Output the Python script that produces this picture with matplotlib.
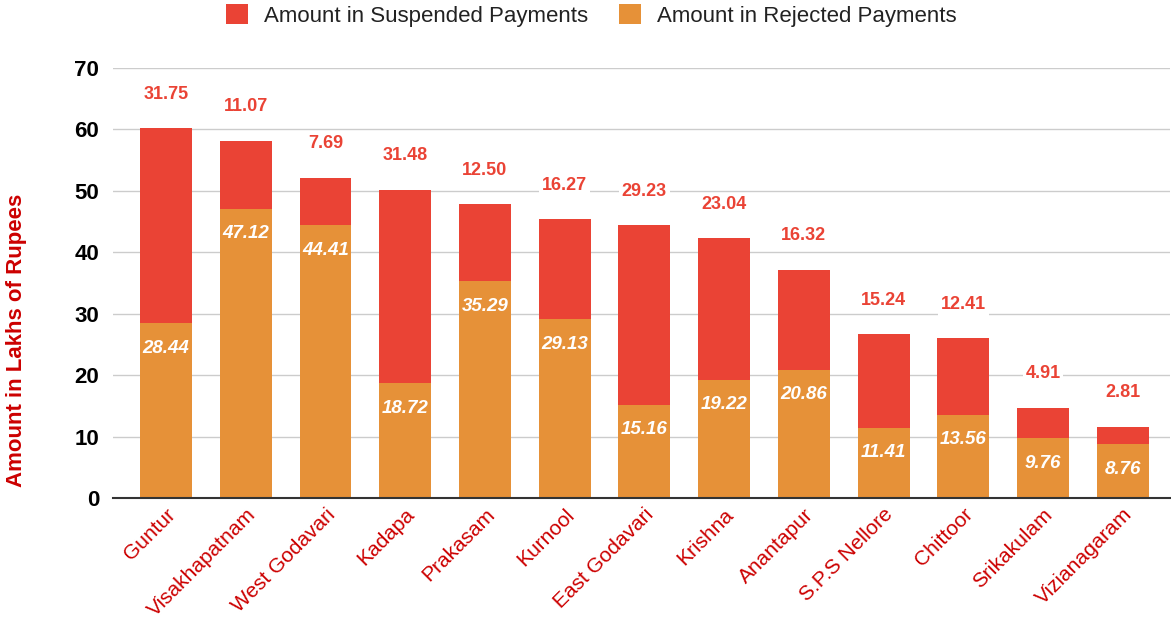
import numpy as np
import matplotlib.pyplot as plt

plt.rcParams['font.family'] = ['Liberation Sans', 'DejaVu Sans']

# data
districts = ['Guntur', 'Visakhapatnam', 'West Godavari', 'Kadapa', 'Prakasam', 'Kurnool',
             'East Godavari', 'Krishna', 'Anantapur', 'S.P.S Nellore', 'Chittoor',
             'Srikakulam', 'Vizianagaram']
suspended = [31.75, 11.07, 7.69, 31.48, 12.50, 16.27, 29.23, 23.04, 16.32, 15.24, 12.41, 4.91, 2.81]
rejected = [28.44, 47.12, 44.41, 18.72, 35.29, 29.13, 15.16, 19.22, 20.86, 11.41, 13.56, 9.76, 8.76]

RED = '#EA4335'
ORANGE = '#E69138'
DARKRED = '#CC0000'

fig = plt.figure(figsize=(11.71, 6.3), dpi=100)
ax = fig.add_axes([0.0965, 0.2095, 0.9025, 0.6825])

x = np.arange(len(districts))
bars_rej = ax.bar(x, rejected, width=0.65, color=ORANGE, zorder=2,
                  label='Amount in Rejected Payments')
bars_sus = ax.bar(x, suspended, width=0.65, bottom=rejected, color=RED, zorder=2,
                  label='Amount in Suspended Payments')

# labels
for i in range(len(districts)):
    total = rejected[i] + suspended[i]
    ax.annotate(f'{suspended[i]:.2f}', (x[i], total), xytext=(0, 34),
                textcoords='offset pixels', ha='center', va='center',
                color=RED, fontsize=13, fontweight='bold', zorder=3,
                bbox=dict(boxstyle='square,pad=0.15', fc='white', ec='none'))
    ax.annotate(f'{rejected[i]:.2f}', (x[i], rejected[i]), xytext=(0, -25),
                textcoords='offset pixels', ha='center', va='center',
                color='white', fontsize=13.5, fontweight='bold', fontstyle='italic', zorder=3)

ax.set_ylim(0, 70)
ax.set_xlim(-0.665, 12.59)
ax.set_yticks(range(0, 71, 10))
ax.yaxis.grid(True, color='#CCCCCC', linewidth=1, zorder=0)
ax.set_axisbelow(True)
for s in ['top', 'right', 'left']:
    ax.spines[s].set_visible(False)
ax.spines['bottom'].set_color('#333333')
ax.spines['bottom'].set_linewidth(1.5)
ax.tick_params(axis='both', length=0)
ax.tick_params(axis='y', labelsize=16, pad=10)
for t in ax.get_yticklabels():
    t.set_fontweight('bold')

ax.set_xticks(x)
ax.set_xticklabels(districts, rotation=45, ha='right', rotation_mode='anchor',
                   color=DARKRED, fontsize=15)
ax.tick_params(axis='x', pad=5)

ax.set_ylabel('Amount in Lakhs of Rupees', color=DARKRED, fontsize=16, fontweight='bold')
ax.yaxis.set_label_coords(-0.081, 0.367)

handles = [bars_sus, bars_rej]
fig.legend(handles, [h.get_label() for h in handles], loc='center',
           bbox_to_anchor=(0.505, 0.975), ncol=2, frameon=False, fontsize=16,
           handlelength=1.0, handleheight=1.0, columnspacing=1.4, handletextpad=0.7,
           labelcolor='#222222')

plt.savefig('out.png', dpi=100)
